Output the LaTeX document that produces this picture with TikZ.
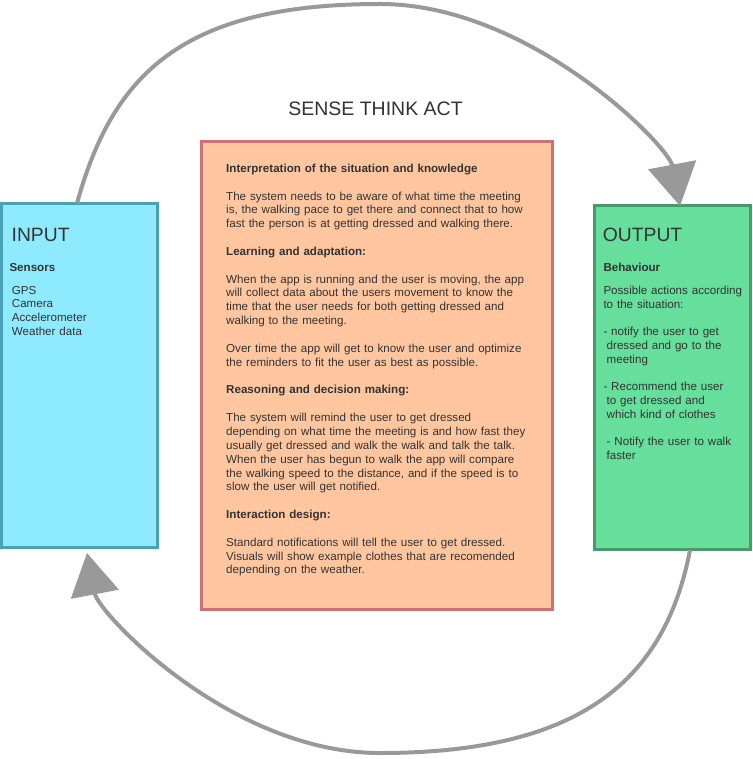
\documentclass[tikz,border=0pt]{standalone}
\usepackage{fontspec}
\setmainfont{Liberation Sans}
\usetikzlibrary{arrows.meta,calc}
\definecolor{inputfill}{HTML}{8EEAFF}
\definecolor{inputline}{HTML}{48A2B5}
\definecolor{thinkfill}{HTML}{FFC69F}
\definecolor{thinkline}{HTML}{CD7177}
\definecolor{outfill}{HTML}{66DE9C}
\definecolor{outline}{HTML}{4A996B}
\definecolor{txt}{HTML}{333333}
\definecolor{arrowgray}{HTML}{999999}
\tikzset{
  box/.style={draw, line width=3pt, inner sep=0pt, outer sep=0pt},
  bigtitle/.style={inner sep=0pt, anchor=base west, text=txt, font=\fontsize{19.3}{22}\selectfont},
  bodytext/.style={inner sep=0pt, anchor=base west, text=txt, align=left, font=\fontsize{11.6}{13.85}\selectfont},
  loop/.style={draw=arrowgray, line width=4pt, -{Triangle[length=42pt,width=48pt]}},
}
\begin{document}
\begin{tikzpicture}[x=1pt,y=-1pt]
\useasboundingbox (0,0) rectangle (752,759);
% boxes
\node[box, fill=inputfill, draw=inputline, minimum width=156.2pt, minimum height=343.7pt] (input) at (79.4,375.15) {};
\node[box, fill=thinkfill, draw=thinkline, minimum width=351pt, minimum height=468.4pt] (think) at (376.5,375.5) {};
\node[box, fill=outfill, draw=outline, minimum width=156.5pt, minimum height=343.5pt] (output) at (672.25,377.25) {};
% title
\node[inner sep=0pt, anchor=base, text=txt, font=\fontsize{19.5}{22}\selectfont] (title) at (375.5,116) {SENSE THINK ACT};
% input texts
\node[bigtitle] (inputlabel) at (11.5,241.7) {INPUT};
\node[bodytext, font=\bfseries\fontsize{11.6}{13.85}\selectfont] (sensors) at (9.3,271) {Sensors};
\node[bodytext, text width=140pt, font=\fontsize{11.6}{13.6}\selectfont] (sensorlist) at (11.7,294.3) {GPS\\Camera\\Accelerometer\\Weather data};
% output texts
\node[bigtitle] (outputlabel) at (602.7,241.7) {OUTPUT};
\node[bodytext, font=\bfseries\fontsize{11.6}{13.85}\selectfont] (behaviour) at (603.3,271) {Behaviour};
\node[bodytext, text width=148pt, font=\fontsize{11.6}{13.75}\selectfont] (actions) at (603.3,294.3) {Possible actions according\\
to the situation:\\[13.75pt]
- notify the user to get\\
\hspace*{3.2pt}dressed and go to the\\
\hspace*{3.2pt}meeting\\[13.75pt]
- Recommend the user\\
\hspace*{3.2pt}to get dressed and\\
\hspace*{3.2pt}which kind of clothes\\[13.75pt]
\hspace*{3.2pt}- Notify the user to walk\\
\hspace*{3.2pt}faster};
% think texts
\node[bodytext, text width=320pt] (thinktext) at (226,172.3) {\textbf{Interpretation of the situation and knowledge}\\[13.85pt]
The system needs to be aware of what time the meeting\\
is, the walking pace to get there and connect that to how\\
fast the person is at getting dressed and walking there.\\[13.85pt]
\textbf{Learning and adaptation:}\\[13.85pt]
When the app is running and the user is moving, the app\\
will collect data about the users movement to know the\\
time that the user needs for both getting dressed and\\
walking to the meeting.\\[13.85pt]
Over time the app will get to know the user and optimize\\
the reminders to fit the user as best as possible.\\[13.85pt]
\textbf{Reasoning and decision making:}\\[13.85pt]
The system will remind the user to get dressed\\
depending on what time the meeting is and how fast they\\
usually get dressed and walk the walk and talk the talk.\\
When the user has begun to walk the app will compare\\
the walking speed to the distance, and if the speed is to\\
slow the user will get notified.\\[13.85pt]
\textbf{Interaction design:}\\[13.85pt]
Standard notifications will tell the user to get dressed.\\
Visuals will show example clothes that are recomended\\
depending on the weather.};
% loop connectors
\coordinate (tstart) at ($(input.north west)+(75.7,0)$);
\coordinate (tend) at ($(output.north west)+(86,0.5)$);
\coordinate (topmid) at (380,4);
\coordinate (bstart) at ($(output.south west)+(96,1)$);
\coordinate (bend) at ($(input.south west)+(85.7,6)$);
\coordinate (botmid) at (380,753);
\draw[loop] (tstart) .. controls +(36,-130) and +(-197,0) .. (topmid)
  .. controls +(150,0) and +(-11.4,-60) .. (tend);
\draw[loop] (bstart) .. controls +(-25,130) and +(201,0) .. (botmid)
  .. controls +(-150,0) and +(11.4,60) .. (bend);
\end{tikzpicture}
\end{document}
